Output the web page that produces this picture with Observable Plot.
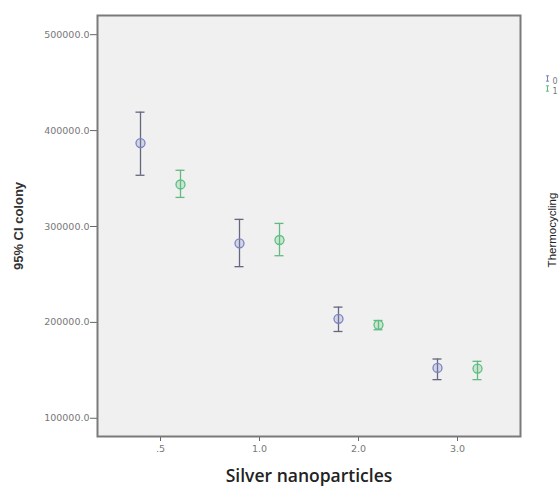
<!DOCTYPE html>
<html>
<head>
<meta charset="utf-8">
<script src="https://cdn.jsdelivr.net/npm/d3@7"></script>
<script src="https://cdn.jsdelivr.net/npm/@observablehq/plot@0.6"></script>
<style>
  html, body { margin: 0; padding: 0; background: #fff; }
  #chart svg { display: block; }
</style>
</head>
<body>
<div id="chart"></div>
<script>
const categories = [".5", "1.0", "2.0", "3.0"];
const groups = ["0", "1"];
const mean0 = [387000, 282400, 203700, 152500];
const lo0   = [353400, 258100, 190500, 140300];
const hi0   = [419200, 307400, 215900, 161800];
const mean1 = [343800, 285900, 197500, 151800];
const lo1   = [330300, 269500, 192300, 140300];
const hi1   = [358600, 303200, 202000, 159400];
const yTicks = [100000, 200000, 300000, 400000, 500000];

const rows0 = categories.map((c, i) => ({cat: c, mean: mean0[i], lo: lo0[i], hi: hi0[i]}));
const rows1 = categories.map((c, i) => ({cat: c, mean: mean1[i], lo: lo1[i], hi: hi1[i]}));

const blue = "#7b82c4", blueLine = "#64677f";
const green = "#5cbf7e", greenLine = "#63b981";

const ibeam = {
  draw(ctx, size) {
    const r = Math.sqrt(size) / 2;
    ctx.moveTo(-r * 0.6, -r); ctx.lineTo(r * 0.6, -r);
    ctx.moveTo(0, -r); ctx.lineTo(0, r);
    ctx.moveTo(-r * 0.6, r); ctx.lineTo(r * 0.6, r);
  }
};

function series(rows, dx, col, line) {
  return [
    Plot.ruleX(rows, {x: "cat", y1: "lo", y2: "hi", dx, stroke: line, strokeWidth: 1.3}),
    Plot.tickY(rows, {x: "cat", y: "hi", dx, insetLeft: 20.5, insetRight: 20.5, stroke: line, strokeWidth: 1.3}),
    Plot.tickY(rows, {x: "cat", y: "lo", dx, insetLeft: 20.5, insetRight: 20.5, stroke: line, strokeWidth: 1.3}),
    Plot.dot(rows, {x: "cat", y: "mean", dx, r: 4.5, stroke: col, fill: col, fillOpacity: 0.25, strokeWidth: 1.3})
  ];
}

const chart = Plot.plot({
  width: 560,
  height: 491,
  marginLeft: 97,
  marginRight: 40,
  marginTop: 15,
  marginBottom: 55,
  style: {fontFamily: "DejaVu Sans, sans-serif", background: "#fff"},
  x: {type: "band", domain: categories, paddingInner: 0.5, paddingOuter: 0.365},
  y: {domain: [81000, 520000]},
  marks: [
    Plot.frame({fill: "#f0f0f0", stroke: "none"}),
    Plot.axisY({ticks: yTicks, tickFormat: d3.format(".1f"), tickSize: 7, tickPadding: 1, fontSize: 9.5, color: "#777", stroke: "#666", label: null}),
    Plot.axisX({tickSize: 5, tickPadding: 4, fontSize: 9.5, color: "#777", stroke: "#666", label: null}),
    ...series(rows0, -20, blue, blueLine),
    ...series(rows1, 20, green, greenLine),
    Plot.frame({stroke: "#7a7a7a", strokeWidth: 2}),
    Plot.text(["95% CI colony"], {frameAnchor: "left", textAnchor: "middle", dx: -79, dy: 0, rotate: -90, fontSize: 13, fontWeight: "bold", fontFamily: "Liberation Sans, Arial, sans-serif", fill: "#333"}),
    Plot.text(["Silver nanoparticles"], {frameAnchor: "bottom", textAnchor: "middle", dy: 45, fontSize: 17.5, fontWeight: 600, fontFamily: "Open Sans", fill: "#222"}),
    Plot.dot(["0"], {frameAnchor: "top-right", dx: 27, dy: 63, symbol: ibeam, r: 3, stroke: blue, strokeWidth: 1}),
    Plot.dot(["1"], {frameAnchor: "top-right", dx: 27, dy: 73, symbol: ibeam, r: 3, stroke: green, strokeWidth: 1}),
    Plot.text([groups[0]], {frameAnchor: "top-right", dx: 32, dy: 63, textAnchor: "start", fontSize: 8, fill: "#777"}),
    Plot.text([groups[1]], {frameAnchor: "top-right", dx: 32, dy: 73, textAnchor: "start", fontSize: 8, fill: "#777"}),
    Plot.text(["Thermocycling"], {frameAnchor: "right", textAnchor: "middle", dx: 32, dy: 4, rotate: -90, fontSize: 11.5, fontFamily: "Liberation Sans, Arial, sans-serif", fill: "#222"})
  ]
});
document.getElementById("chart").appendChild(chart);
</script>
</body>
</html>
